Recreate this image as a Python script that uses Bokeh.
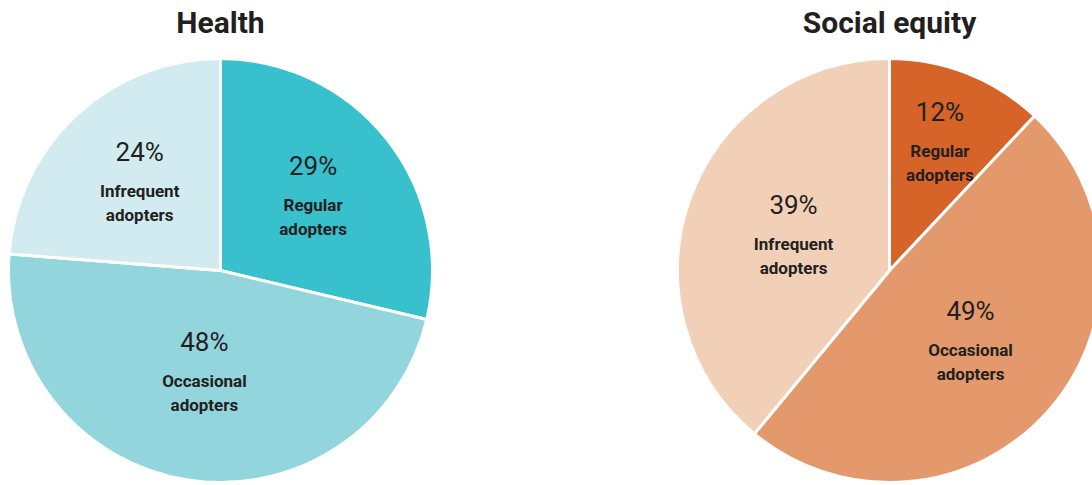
import math
from bokeh.plotting import figure
from bokeh.models import Range1d, ColumnDataSource
from bokeh.core.properties import value
from bokeh.embed import file_html
from bokeh.resources import INLINE

# ---- data ----
titles = ["Health", "Social equity"]
categories = ["Regular adopters", "Occasional adopters", "Infrequent adopters"]
health_values = [29, 48, 24]
equity_values = [12, 49, 39]
health_colors = ["#38c1cc", "#93d5dd", "#d1ebf0"]
equity_colors = ["#d66328", "#e3996b", "#f2d0b8"]

# ---- layout (screen-like coordinates, y measured up from bottom of 485 window) ----
W, H = 1092, 485
FONT = "Roboto"
TXT = "#231f20"

p = figure(width=W, height=H, output_backend="svg", toolbar_location=None,
           x_range=Range1d(0, W), y_range=Range1d(0, H), min_border=0)
p.axis.visible = False
p.grid.visible = False
p.outline_line_color = None
p.background_fill_color = "white"

pies = [
    dict(title=titles[0], values=health_values, colors=health_colors, cx=220, cy=H - 270,
         label_r=[118, 104, 119]),
    dict(title=titles[1], values=equity_values, colors=equity_colors, cx=889, cy=H - 270,
         label_r=[137, 108, 102]),
]
R = 212

for pie in pies:
    vals = pie["values"]
    tot = float(sum(vals))
    starts, ends, mids = [], [], []
    cum = 0.0
    for v in vals:
        a0 = math.pi / 2 - (cum + v) / tot * 2 * math.pi
        a1 = math.pi / 2 - cum / tot * 2 * math.pi
        starts.append(a0)
        ends.append(a1)
        mids.append((a0 + a1) / 2)
        cum += v
    src = ColumnDataSource(dict(x=[pie["cx"]] * len(vals), y=[pie["cy"]] * len(vals),
                                start=starts, end=ends, color=pie["colors"]))
    p.wedge(x="x", y="y", radius=R, start_angle="start", end_angle="end",
            fill_color="color", line_color="white", line_width=3, source=src)

    px, py, pt, lx, ly, lt = [], [], [], [], [], []
    for v, cat, m, r in zip(vals, categories, mids, pie["label_r"]):
        ax = pie["cx"] + r * math.cos(m)
        ay = pie["cy"] + r * math.sin(m)
        px.append(ax); py.append(ay + 31); pt.append(f"{v}%")
        w1, w2 = cat.split(" ")
        lx += [ax, ax]; ly += [ay - 8, ay - 32]; lt += [w1, w2]
    p.text(x=px, y=py, text=pt, text_font=value(FONT), text_font_size="26px",
           text_color=TXT, text_align="center", text_baseline="middle")
    p.text(x=lx, y=ly, text=lt, text_font=value(FONT), text_font_size="17px",
           text_font_style="bold", text_color=TXT, text_align="center",
           text_baseline="middle")
    p.text(x=[pie["cx"]], y=[H - 22], text=[pie["title"]], text_font=value(FONT),
           text_font_size="30px", text_font_style="bold", text_color=TXT,
           text_align="center", text_baseline="middle")

open("out.html", "w").write(file_html(p, INLINE))
